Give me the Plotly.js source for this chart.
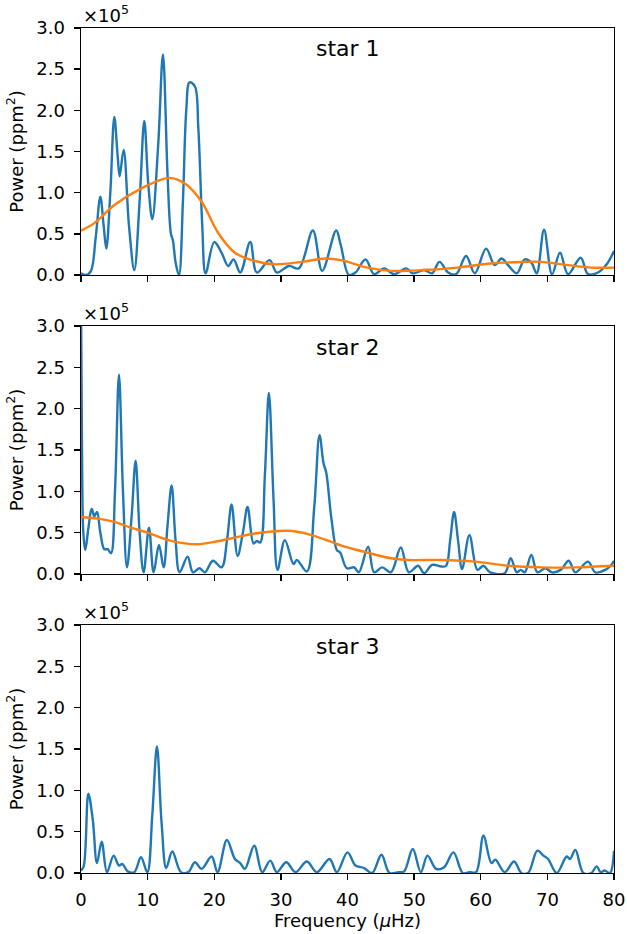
<!DOCTYPE html>
<html>
<head>
<meta charset="utf-8">
<script src="https://cdn.plot.ly/plotly-3.0.1.min.js"></script>
<style>html,body{margin:0;padding:0;background:#fff;}#chart{width:627px;height:934px;}</style>
</head>
<body>
<div id="chart"></div>
<script>
// Power in units of 1e5 ppm^2, frequency in microHz
const freqStar1 = [0, 0.8, 1.5, 2.2, 2.9, 3.4, 3.8, 4.4, 5.0, 5.5, 5.8, 6.4, 7.2, 8.0, 8.8, 9.5, 10.1, 10.7, 11.6, 12.3, 13.0, 13.5, 13.8, 14.2, 14.7, 15.3, 15.8, 16.3, 17.1, 17.6, 18.2, 18.7, 20.0, 21.1, 22.1, 22.9, 23.9, 25.4, 26.4, 28.3, 29.4, 31.2, 32.7, 34.8, 36.2, 38.3, 39.0, 40.2, 41.2, 42.7, 44.0, 45.5, 47.0, 48.8, 49.8, 51.5, 52.7, 53.8, 55.1, 56.3, 57.8, 59.1, 60.8, 62.1, 63.1, 64.1, 65.4, 66.6, 67.6, 68.4, 69.5, 70.7, 71.9, 73.1, 75.0, 76.1, 77.6, 78.9, 80];
const powerStar1 = [0.02, 0.0, 0.05, 0.45, 0.95, 0.6, 0.32, 1.0, 1.92, 1.45, 1.2, 1.52, 0.6, 0.06, 0.9, 1.87, 1.1, 0.68, 1.6, 2.68, 1.2, 0.5, 0.42, 0.15, 0.0, 0.9, 2.0, 2.34, 2.29, 1.8, 0.6, 0.02, 0.40, 0.27, 0.11, 0.19, 0.03, 0.40, 0.03, 0.18, 0.03, 0.11, 0.08, 0.54, 0.05, 0.54, 0.36, 0.0, 0.03, 0.19, 0.01, 0.08, 0.01, 0.08, 0.02, 0.06, 0.02, 0.16, 0.03, 0.01, 0.23, 0.02, 0.32, 0.12, 0.20, 0.12, 0.02, 0.19, 0.15, 0.02, 0.55, 0.01, 0.27, 0.01, 0.21, 0.01, 0.03, 0.13, 0.29];
const freqFit1 = [0, 2, 5, 9, 13.3, 15.6, 18.1, 20.6, 23.1, 26.1, 29.1, 33.2, 36.7, 39.0, 43.0, 46.5, 51.5, 56.5, 61.5, 65, 69.1, 73.1, 76.6, 80];
const powerFit1 = [0.54, 0.63, 0.85, 1.05, 1.18, 1.11, 0.89, 0.51, 0.27, 0.17, 0.13, 0.16, 0.20, 0.18, 0.09, 0.05, 0.06, 0.09, 0.14, 0.155, 0.16, 0.12, 0.09, 0.09];

const freqStar2 = [0, 0.15, 0.35, 0.65, 1.1, 1.6, 2.0, 2.4, 2.9, 3.5, 4.0, 4.5, 5.1, 5.7, 6.3, 6.9, 7.6, 8.2, 8.8, 9.4, 10.2, 10.9, 11.7, 12.4, 13.0, 13.6, 14.2, 14.8, 16.0, 16.8, 17.8, 18.6, 19.8, 21.1, 21.9, 22.6, 23.5, 24.3, 25.0, 25.9, 26.4, 26.9, 27.6, 28.2, 28.9, 29.5, 30.6, 31.9, 32.4, 33.9, 35.0, 35.8, 36.4, 36.8, 37.6, 38.4, 38.9, 39.9, 41.0, 41.7, 43.1, 44.0, 45.2, 46.5, 48.0, 49.2, 50.6, 51.5, 52.7, 54.1, 54.8, 55.4, 56.0, 56.6, 57.2, 58.3, 59.5, 60.4, 61.4, 63.6, 64.5, 65.4, 66.0, 66.6, 67.6, 68.5, 69.7, 70.7, 72.0, 73.2, 74.2, 76.1, 77.2, 78.7, 79.5, 80];
const powerStar2 = [3.3, 1.5, 0.5, 0.29, 0.55, 0.79, 0.70, 0.75, 0.5, 0.30, 0.30, 0.25, 1.0, 2.41, 1.0, 0.08, 0.7, 1.37, 0.5, 0.02, 0.56, 0.02, 0.35, 0.08, 0.6, 1.07, 0.4, 0.02, 0.21, 0.02, 0.07, 0.02, 0.16, 0.08, 0.4, 0.84, 0.22, 0.5, 0.81, 0.37, 0.40, 0.38, 1.2, 2.19, 0.9, 0.05, 0.41, 0.12, 0.17, 0.03, 0.8, 1.68, 1.34, 1.23, 0.66, 0.29, 0.26, 0.07, 0.08, 0.02, 0.33, 0.02, 0.08, 0.02, 0.32, 0.02, 0.10, 0.01, 0.11, 0.09, 0.10, 0.4, 0.75, 0.4, 0.06, 0.47, 0.05, 0.10, 0.02, 0.01, 0.19, 0.02, 0.05, 0.02, 0.23, 0.02, 0.07, 0.02, 0.05, 0.16, 0.02, 0.15, 0.02, 0.05, 0.10, 0.16];
const freqFit2 = [0, 2.5, 5, 7.5, 10, 13.1, 15.6, 17.6, 20.1, 23.1, 26.1, 29.6, 31.7, 34.2, 37.2, 39.2, 42.9, 46.5, 49, 54.1, 59.1, 64.1, 69.2, 74.2, 80];
const powerFit2 = [0.69, 0.67, 0.63, 0.56, 0.50, 0.41, 0.37, 0.36, 0.39, 0.44, 0.49, 0.52, 0.52, 0.48, 0.40, 0.34, 0.26, 0.19, 0.17, 0.17, 0.15, 0.10, 0.08, 0.08, 0.10];

const freqStar3 = [0, 0.4, 1.1, 1.76, 2.4, 3.1, 3.9, 4.9, 5.7, 6.2, 7.0, 8.0, 9.0, 9.95, 10.7, 11.4, 12.1, 12.8, 13.7, 15.0, 16.1, 17.1, 18.1, 19.6, 20.5, 21.9, 23.1, 23.9, 24.6, 26.0, 27.2, 28.4, 29.4, 30.8, 32.2, 33.9, 35.4, 37.3, 38.4, 40.0, 41.2, 42.5, 43.7, 45.1, 46.3, 47.7, 48.5, 49.8, 51.0, 52.0, 53.3, 54.5, 55.9, 57.3, 58.3, 59.3, 60.4, 61.6, 62.2, 63.6, 65.0, 66.1, 67.1, 68.5, 69.4, 70.1, 71.4, 72.9, 73.4, 74.2, 75.4, 76.6, 77.4, 78.0, 78.6, 79.4, 80];
const powerStar3 = [0.03, 0.08, 0.96, 0.65, 0.12, 0.38, 0.01, 0.21, 0.09, 0.11, 0.02, 0.01, 0.19, 0.01, 0.7, 1.53, 0.6, 0.06, 0.26, 0.01, 0.01, 0.13, 0.05, 0.20, 0.01, 0.40, 0.17, 0.12, 0.05, 0.33, 0.01, 0.15, 0.01, 0.13, 0.01, 0.14, 0.01, 0.17, 0.01, 0.25, 0.09, 0.06, 0.0, 0.22, 0.0, 0.01, 0.02, 0.29, 0.01, 0.21, 0.05, 0.07, 0.25, 0.0, 0.01, 0.01, 0.45, 0.12, 0.16, 0.01, 0.14, 0.0, 0.0, 0.27, 0.21, 0.17, 0.0, 0.20, 0.17, 0.28, 0.0, 0.0, 0.08, 0.01, 0.03, 0.0, 0.27];

const panelLabels = ["star 1", "star 2", "star 3"];
const yTickVals = [0, 0.5, 1.0, 1.5, 2.0, 2.5, 3.0];
const xTickVals = [0, 10, 20, 30, 40, 50, 60, 70, 80];

const BLUE = '#1f77b4', ORANGE = '#ff7f0e';
const FONT = 'DejaVu Sans, sans-serif';
const FS = 18;

function line(x, y, ax, color) {
  return {x: x, y: y, xaxis: 'x' + ax, yaxis: 'y' + ax, type: 'scatter', mode: 'lines',
    line: {color: color, width: 2.4, shape: 'spline', smoothing: 1}, hoverinfo: 'skip'};
}

const data = [
  line(freqStar1, powerStar1, '', BLUE), line(freqFit1, powerFit1, '', ORANGE),
  line(freqStar2, powerStar2, '2', BLUE), line(freqFit2, powerFit2, '2', ORANGE),
  line(freqStar3, powerStar3, '3', BLUE)
];

function xax(showLabels, anchor) {
  return {range: [0, 80], tickvals: xTickVals, ticks: 'outside', ticklen: 6, tickwidth: 1.4, tickcolor: '#000',
    showline: true, linecolor: '#000', linewidth: 1.4, mirror: true, showgrid: false, zeroline: false,
    ticklabelstandoff: 4,
    showticklabels: showLabels, tickfont: {family: FONT, size: FS, color: '#000'}, anchor: anchor};
}
function yax(domain, anchor) {
  return {domain: domain, range: [0, 3.0], tickvals: yTickVals, tickformat: '.1f', ticks: 'outside', ticklen: 6,
    tickwidth: 1.4, tickcolor: '#000', showline: true, linecolor: '#000', linewidth: 1.4, mirror: true,
    showgrid: false, zeroline: false, ticklabelstandoff: 5,
    tickfont: {family: FONT, size: FS, color: '#000'}, anchor: anchor,
    title: {text: 'Power (ppm<sup>2</sup>)', font: {family: FONT, size: FS, color: '#000'}, standoff: 8}};
}

const H = 845;
const layout = {
  width: 627, height: 934,
  margin: {l: 81, r: 13, t: 28, b: 61},
  paper_bgcolor: '#fff', plot_bgcolor: '#fff',
  showlegend: false,
  font: {family: FONT, size: FS, color: '#000'},
  xaxis: xax(false, 'y'),
  xaxis2: xax(false, 'y2'),
  xaxis3: Object.assign(xax(true, 'y3'), {title: {text: 'Frequency (<i>μ</i>Hz)', font: {family: FONT, size: FS, color: '#000'}, standoff: 4}}),
  yaxis: yax([(873 - 275) / H, 1], 'x'),
  yaxis2: yax([(873 - 574) / H, (873 - 326) / H], 'x2'),
  yaxis3: yax([0, (873 - 625) / H], 'x3'),
  annotations: []
};
const axIds = ['', '2', '3'];
axIds.forEach((id, i) => {
  layout.annotations.push({xref: 'x' + id + ' domain', yref: 'y' + id + ' domain', x: 0.5, y: 0.915,
    xanchor: 'center', yanchor: 'middle', text: panelLabels[i], showarrow: false,
    font: {family: FONT, size: 22, color: '#000'}});
  layout.annotations.push({xref: 'x' + id + ' domain', yref: 'y' + id + ' domain', x: 0, y: 1,
    xanchor: 'left', yanchor: 'bottom', text: '×10<sup>5</sup>', showarrow: false,
    font: {family: FONT, size: FS, color: '#000'}});
});

Plotly.newPlot('chart', data, layout, {staticPlot: true, displayModeBar: false});
</script>
</body>
</html>
